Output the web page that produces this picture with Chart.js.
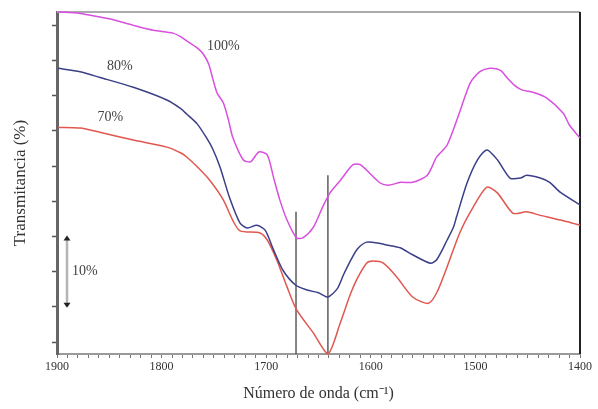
<!DOCTYPE html>
<html>
<head>
<meta charset="utf-8">
<script src="https://cdn.jsdelivr.net/npm/chart.js@4.4.0/dist/chart.umd.min.js"></script>
<style>
  html, body { margin: 0; padding: 0; background: #fff; }
</style>
</head>
<body>
<canvas id="irChart" width="598" height="409"></canvas>
<script>
// readings: wavenumber (cm-1) and transmittance (arbitrary offset, 10 units = 10%)
const wn100 = [1899, 1878, 1859, 1849, 1827, 1808, 1789, 1782, 1776, 1766, 1760, 1755, 1751, 1747, 1741, 1736, 1732, 1722, 1715, 1707,
  1699, 1693, 1687, 1680, 1671, 1665, 1655, 1646, 1639, 1629, 1617, 1610, 1591, 1582, 1572, 1560, 1546, 1537, 1527, 1515,
  1505, 1496, 1486, 1476, 1470, 1462, 1455, 1445, 1432, 1416, 1410, 1400];
const t100 = [51.9, 51.7, 51.2, 50.9, 50.0, 49.3, 48.9, 48.4, 47.8, 46.8, 45.9, 44.5, 42.4, 40.4, 39.0, 36.5, 34.1, 30.9, 30.6, 32.0,
  31.6, 28.4, 25.2, 22.3, 19.8, 19.8, 21.3, 24.2, 26.2, 28.0, 30.2, 30.2, 27.6, 27.3, 27.7, 27.7, 28.7, 31.3, 33.0, 37.7,
  41.8, 43.4, 43.9, 43.6, 42.6, 41.4, 40.8, 40.5, 39.7, 37.5, 35.8, 34.0];

const wn80 = [1899, 1878, 1859, 1827, 1795, 1782, 1776, 1766, 1757, 1751, 1744, 1735, 1725, 1718, 1709, 1701, 1693, 1684,
  1672, 1661, 1650, 1641, 1632, 1626, 1620, 1613, 1604, 1591, 1585, 1572, 1560, 1543, 1537, 1527, 1521, 1518, 1508,
  1498, 1489, 1479, 1467, 1457, 1451, 1438, 1429, 1419, 1400];
const t80 = [43.9, 43.4, 42.6, 41.2, 39.4, 38.2, 37.4, 36.0, 34.0, 32.4, 29.8, 25.5, 21.9, 21.2, 21.6, 20.9, 18.1, 15.2,
  13.1, 12.4, 12.0, 11.4, 12.6, 14.6, 16.4, 18.2, 19.2, 19.0, 18.8, 18.4, 17.4, 16.2, 16.7, 19.5, 21.3, 22.8, 27.6,
  30.9, 32.3, 30.9, 28.3, 28.3, 28.7, 28.3, 27.7, 26.3, 24.5];

const wn70 = [1899, 1878, 1859, 1827, 1795, 1782, 1776, 1766, 1754, 1741, 1732, 1725, 1706, 1699, 1690, 1680, 1671, 1655, 1641, 1629,
  1620, 1613, 1604, 1598, 1588, 1575, 1560, 1545, 1537, 1527, 1515, 1502, 1489, 1479, 1464, 1451, 1438, 1426, 1412, 1400];
const t70 = [35.5, 35.4, 34.8, 33.7, 32.7, 31.9, 31.3, 29.9, 28.0, 25.2, 22.3, 20.8, 20.5, 19.5, 16.7, 12.8, 9.6, 6.3, 3.3, 7.8,
  11.6, 14.0, 16.2, 16.5, 16.2, 14.2, 11.4, 10.5, 12.0, 15.7, 20.5, 24.2, 27.0, 26.2, 23.3, 23.5, 23.0, 22.6, 22.1, 21.6];

const seriesLabels = ['100%', '80%', '70%'];
const labelWn = [1741, 1840, 1849];
const labelT = [47.0, 44.2, 37.0];

const xMajorTicks = [1900, 1800, 1700, 1600, 1500, 1400];
const yTicks = [5, 10, 15, 20, 25, 30, 35, 40, 45, 50];

// band markers (vertical lines)
const markerWn = [1671.5, 1641];
const markerTop = [23.5, 28.7];

// 10% scale bar
const scaleBarWn = 1890;
const scaleBarRange = [10, 20];

const yMin = 3.3, yMax = 51.9;
const serif = 'Liberation Serif';

const pts = (xs, ys) => xs.map((x, i) => ({ x: x, y: ys[i] }));

function lineSet(label, data, color) {
  return { label: label, data: data, borderColor: color, borderWidth: 1.5, pointRadius: 0, tension: 0.25, fill: false, clip: 4 };
}

const datasets = [
  lineSet(seriesLabels[0], pts(wn100, t100), '#d94fdf'),
  lineSet(seriesLabels[1], pts(wn80, t80), '#3a3f88'),
  lineSet(seriesLabels[2], pts(wn70, t70), '#e0574f')
];
markerWn.forEach((w, i) => {
  datasets.push({ label: 'm' + i, data: [{ x: w, y: yMin }, { x: w, y: markerTop[i] }],
    borderColor: '#444', borderWidth: 1.3, pointRadius: 0, fill: false });
});

const decor = {
  id: 'decor',
  beforeDatasetsDraw(chart) {
    const { ctx, chartArea: a } = chart;
    ctx.save();
    // top and right frame
    ctx.strokeStyle = '#aaa';
    ctx.lineWidth = 2;
    ctx.beginPath(); ctx.moveTo(a.left, a.top); ctx.lineTo(a.right, a.top); ctx.stroke();
    ctx.strokeStyle = '#222';
    ctx.beginPath(); ctx.moveTo(a.right, a.top); ctx.lineTo(a.right, a.bottom); ctx.stroke();
    ctx.restore();
  },
  afterDatasetsDraw(chart) {
    const { ctx } = chart;
    const xs = chart.scales.x, ys = chart.scales.y;
    ctx.save();
    ctx.fillStyle = '#444';
    ctx.font = '14px "' + serif + '"';
    ctx.textAlign = 'center';
    ctx.textBaseline = 'middle';
    seriesLabels.forEach((t, i) => {
      ctx.fillText(t, xs.getPixelForValue(labelWn[i]), ys.getPixelForValue(labelT[i]));
    });

    // scale bar
    const bx = Math.round(xs.getPixelForValue(scaleBarWn));
    const y1 = ys.getPixelForValue(scaleBarRange[1]);
    const y2 = ys.getPixelForValue(scaleBarRange[0]);
    ctx.strokeStyle = '#b5b5b5';
    ctx.lineWidth = 2.5;
    ctx.beginPath(); ctx.moveTo(bx, y1 + 3); ctx.lineTo(bx, y2 - 3); ctx.stroke();
    ctx.fillStyle = '#222';
    ctx.beginPath(); ctx.moveTo(bx, y1 - 1); ctx.lineTo(bx - 3.5, y1 + 4); ctx.lineTo(bx + 3.5, y1 + 4); ctx.closePath(); ctx.fill();
    ctx.beginPath(); ctx.moveTo(bx, y2 + 1); ctx.lineTo(bx - 3.5, y2 - 4); ctx.lineTo(bx + 3.5, y2 - 4); ctx.closePath(); ctx.fill();
    ctx.fillStyle = '#444';
    ctx.textAlign = 'left';
    ctx.fillText('10%', bx + 5, (y1 + y2) / 2);
    ctx.restore();
  }
};

new Chart(document.getElementById('irChart').getContext('2d'), {
  type: 'line',
  data: { datasets: datasets },
  options: {
    responsive: false,
    animation: false,
    layout: { padding: { top: 12, right: 18, left: 0, bottom: 0 } },
    plugins: { legend: { display: false }, tooltip: { enabled: false } },
    scales: {
      x: {
        type: 'linear',
        reverse: true,
        min: 1400,
        max: 1900,
        afterBuildTicks: s => {
          const t = [];
          for (let v = 1400; v <= 1900; v += 10) t.push({ value: v });
          s.ticks = t;
        },
        ticks: {
          autoSkip: false,
          maxRotation: 0,
          padding: 2,
          color: '#333',
          font: { family: serif, size: 12 },
          callback: v => xMajorTicks.includes(v) ? String(v) : ''
        },
        grid: { drawOnChartArea: false, tickLength: 4, tickColor: '#777', tickWidth: 1 },
        border: { color: '#999', width: 2 },
        title: { display: true, text: 'Número de onda (cm⁻¹)', color: '#333',
          font: { family: serif, size: 16 }, padding: { top: 0, bottom: 6 } },
        afterFit: s => { s.height = 55; }
      },
      y: {
        min: yMin,
        max: yMax,
        afterBuildTicks: s => { s.ticks = yTicks.map(v => ({ value: v })); },
        ticks: { display: false },
        grid: { drawOnChartArea: false, tickLength: 5, tickColor: '#555', tickWidth: 1.5 },
        border: { color: '#666', width: 3 },
        title: { display: true, text: 'Transmitancia (%)', color: '#333',
          font: { family: serif, size: 17 }, padding: { top: 10, bottom: 0 } },
        afterFit: s => { s.width = 57; }
      }
    }
  },
  plugins: [decor]
});
</script>
</body>
</html>
